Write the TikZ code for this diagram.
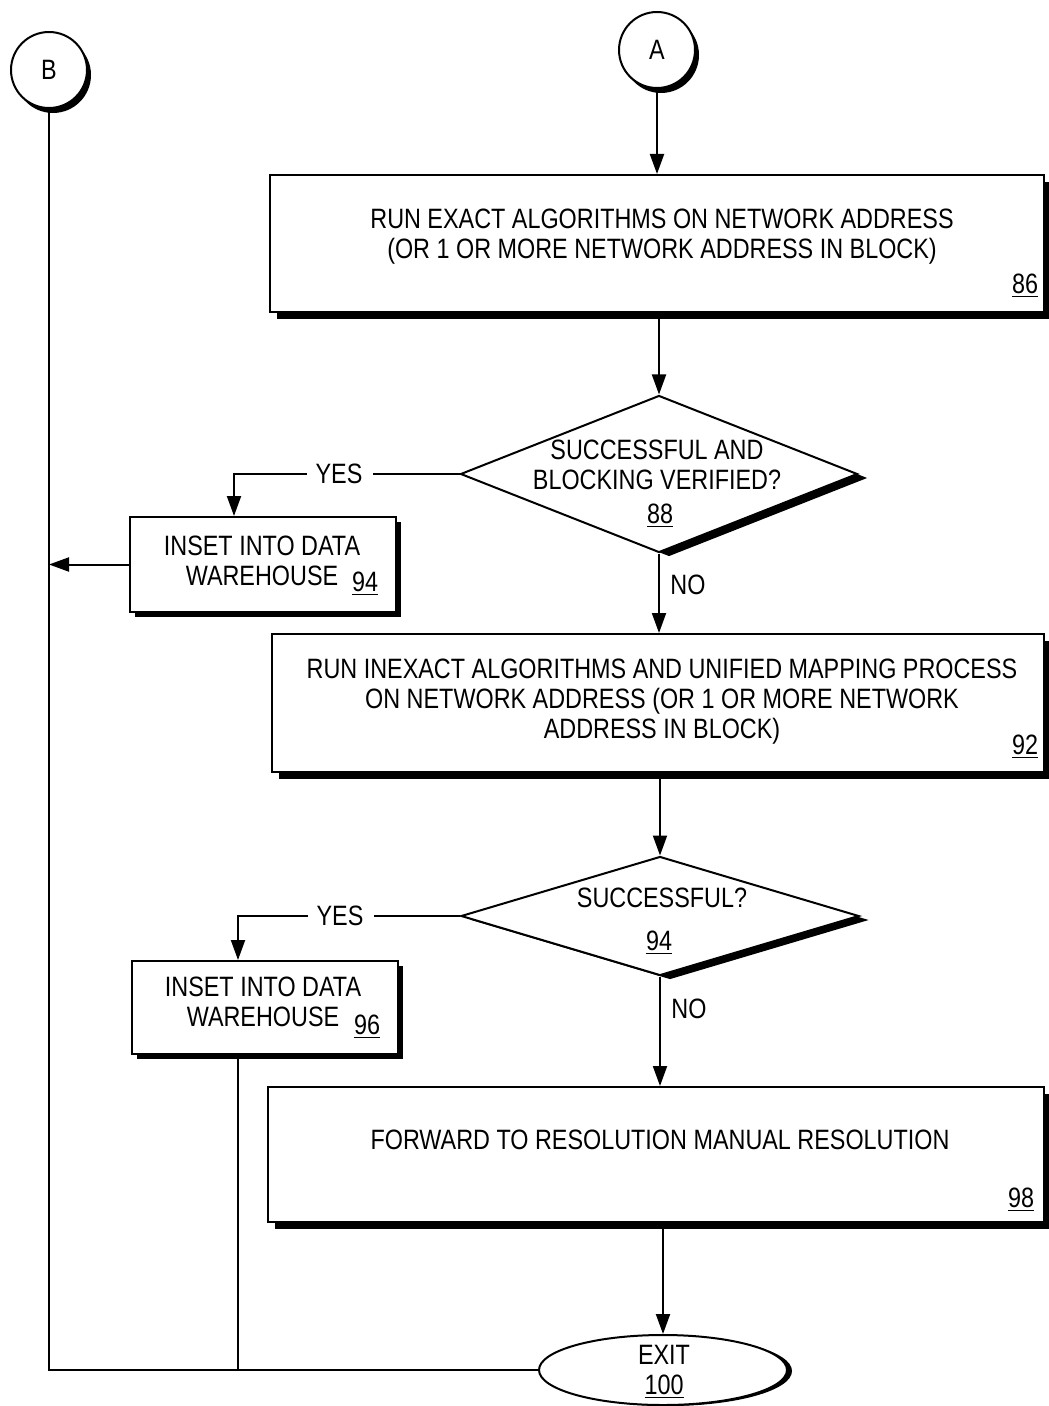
\documentclass[tikz,border=0pt]{standalone}
\usepackage{fontspec}
\setmainfont{Liberation Sans}[FakeStretch=0.835]
\usetikzlibrary{shapes.geometric,arrows.meta,shadows}
\begin{document}
\begin{tikzpicture}[x=0.5pt,y=-0.5pt,
  every node/.style={font=\fontsize{14pt}{15pt}\selectfont, inner sep=0pt},
  ln/.style={line width=1pt},
  arr/.style={line width=1pt, -{Triangle[length=10pt,width=7pt]}},
  procbox/.style={draw, line width=1pt, fill=white, rectangle, inner sep=0pt,
     general shadow={fill=black, shadow xshift=3.5pt, shadow yshift=-3.5pt}},
  smallbox/.style={draw, line width=1pt, fill=white, rectangle, inner sep=0pt,
     general shadow={fill=black, shadow xshift=2.5pt, shadow yshift=-2.5pt}},
  decision/.style={draw, line width=1pt, fill=white, diamond, inner sep=0pt,
     general shadow={fill=black, shadow xshift=5pt, shadow yshift=-2pt}},
  conn/.style={draw, line width=1pt, fill=white, circle, inner sep=0pt, minimum size=38pt,
     general shadow={fill=black, shadow xshift=2pt, shadow yshift=-2.5pt}},
  term/.style={draw, line width=1pt, fill=white, ellipse, inner sep=0pt,
     general shadow={fill=black, shadow xshift=2.5pt, shadow yshift=-0.5pt}},
  txt/.style={align=center},
  num/.style={}
]
\useasboundingbox (0,0) rectangle (1048,1406);

% connectors (circles)
\node[conn] (B) at (49,70) {B};
\node[conn] (A) at (657,50) {A};

% process boxes
\node[procbox, minimum width=387pt, minimum height=68.5pt] (b86) at (657,243.5) {};
\node[txt] (t86) at (662,236.5) {RUN EXACT ALGORITHMS ON NETWORK ADDRESS\\(OR 1 OR MORE NETWORK ADDRESS IN BLOCK)};
\node[num] (n86) at (1025,286) {\underline{86}};

\node[decision, minimum width=198.5pt, minimum height=78.5pt] (d88) at (659,474) {};
\node[txt] (t88) at (657,465) {SUCCESSFUL AND\\BLOCKING VERIFIED?};
\node[num] (n88) at (660,516) {\underline{88}};

\node (yes1) at (339,474) {YES};

\node[smallbox, minimum width=133pt, minimum height=47.5pt] (b94) at (263,564.5) {};
\node[txt] (t94) at (262,561) {INSET INTO DATA\\WAREHOUSE};
\node[num] (n94) at (365,584) {\underline{94}};

\node (no1) at (688,585) {NO};

\node[procbox, minimum width=386pt, minimum height=69pt] (b92) at (658,703) {};
\node[txt] (t92) at (662,702) {RUN INEXACT ALGORITHMS AND UNIFIED MAPPING PROCESS\\ON NETWORK ADDRESS (OR 1 OR MORE NETWORK\\ADDRESS IN BLOCK)};
\node[num] (n92) at (1025,747) {\underline{92}};

\node[decision, minimum width=199pt, minimum height=59.5pt] (d94) at (660,916) {};
\node (t94d) at (662,898) {SUCCESSFUL?};
\node[num] (n94d) at (659,943) {\underline{94}};

\node (yes2) at (340,916) {YES};

\node[smallbox, minimum width=133pt, minimum height=46.5pt] (b96) at (265,1007.5) {};
\node[txt] (t96) at (263,1002) {INSET INTO DATA\\WAREHOUSE};
\node[num] (n96) at (367,1027) {\underline{96}};

\node (no2) at (689,1009) {NO};

\node[procbox, minimum width=388pt, minimum height=67.5pt] (b98) at (656,1154.5) {};
\node (t98) at (660,1140) {FORWARD TO RESOLUTION MANUAL RESOLUTION};
\node[num] (n98) at (1021,1200) {\underline{98}};

\node[term, minimum width=124pt, minimum height=35pt] (exit) at (663,1370) {};
\node[txt] (texit) at (664,1372) {EXIT\\\underline{100}};

% flow lines
\draw[arr] (A.south) -- (A.south |- b86.north);
\draw[arr] (b86.south -| d88.north) -- (d88.north);
\draw[ln] (d88.west) -- ([xshift=5pt]yes1.east);
\draw[arr] ([xshift=-4pt]yes1.west) -| ([xshift=-14.5pt]b94.north);
\draw[arr] (b94.west) -- (b94.west -| B.south);
\draw[arr] (d88.south) -- (d88.south |- b92.north);
\draw[arr] (b92.south -| d94.north) -- (d94.north);
\draw[ln] (d94.west) -- ([xshift=5pt]yes2.east);
\draw[arr] ([xshift=-4pt]yes2.west) -| ([xshift=-13.5pt]b96.north);
\draw[arr] (d94.south) -- (d94.south |- b98.north);
\draw[arr] (b98.south -| exit.north) -- (exit.north);
\draw[ln] (B.south) -- (B.south |- exit.west) -- (exit.west);
\draw[ln] ([xshift=-13.5pt,yshift=-2pt]b96.south) -- ([xshift=-13.5pt]b96.south |- exit.west);
\end{tikzpicture}
\end{document}
